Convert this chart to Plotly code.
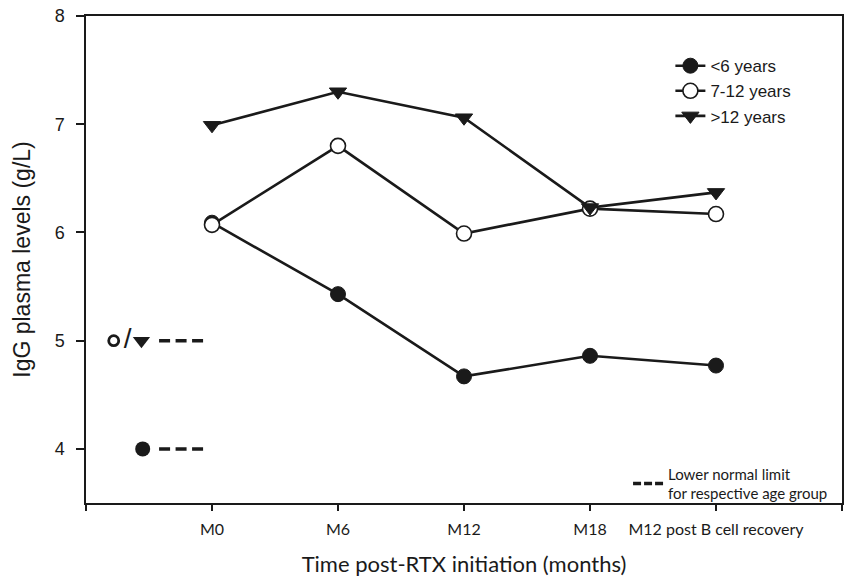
import plotly.graph_objects as go

# ---- data ----
time_labels = ["M0", "M6", "M12", "M18", "M12 post B cell recovery"]
time_pos = [0, 1, 2, 3, 4]
igg_lt6 = [6.09, 5.43, 4.67, 4.86, 4.77]
igg_7_12 = [6.07, 6.80, 5.99, 6.22, 6.17]
igg_gt12 = [6.99, 7.30, 7.06, 6.23, 6.37]
group_names = ["<6 years", "7-12 years", ">12 years"]
lower_limit_lt6 = 4
lower_limit_7_12 = 5
lower_limit_gt12 = 5
y_ticks = [4, 5, 6, 7, 8]

INK = "#1a1a1a"
fig = go.Figure()

# main series
series = [
    (igg_lt6, group_names[0], dict(symbol="circle", size=15, color=INK, line=dict(color=INK, width=1))),
    (igg_7_12, group_names[1], dict(symbol="circle", size=15, color="white", line=dict(color=INK, width=1.6))),
    (igg_gt12, group_names[2], dict(symbol="triangle-down", size=15, color=INK, line=dict(color=INK, width=1))),
]
for vals, name, mk in series:
    fig.add_trace(go.Scatter(x=time_pos, y=vals, name=name, mode="lines+markers",
                             line=dict(color=INK, width=2.6), marker=mk, legend="legend"))

# lower normal limit keys (left side)
fig.add_trace(go.Scatter(x=[-0.78], y=[lower_limit_7_12], mode="markers", showlegend=False,
                         marker=dict(symbol="circle-open", size=10, color=INK, line=dict(width=2.8))))
fig.add_trace(go.Scatter(x=[-0.56], y=[lower_limit_gt12], mode="markers", showlegend=False,
                         marker=dict(symbol="triangle-down", size=15, color=INK)))
fig.add_trace(go.Scatter(x=[-0.55], y=[lower_limit_lt6], mode="markers", showlegend=False,
                         marker=dict(symbol="circle", size=15, color=INK)))
fig.add_trace(go.Scatter(x=[-0.67], y=[lower_limit_7_12], mode="text", text=["/"], showlegend=False,
                         textfont=dict(family="Liberation Sans, Arial", size=28, color=INK)))
for lim in sorted(set([lower_limit_lt6, lower_limit_7_12, lower_limit_gt12])):
    fig.add_trace(go.Scatter(x=[-0.42, -0.07], y=[lim, lim], mode="lines", showlegend=False,
                             line=dict(color=INK, width=3.5, dash="11px,5.5px")))

# legend entry for the dashed line
fig.add_trace(go.Scatter(x=[None], y=[None], mode="lines", name="Lower normal limit<br>for respective age group",
                         line=dict(color=INK, width=3.5, dash="8px,3px"), legend="legend2"))

fig.update_layout(
    width=846, height=582,
    margin=dict(l=86, r=4, t=16, b=79),
    plot_bgcolor="white", paper_bgcolor="white",
    font=dict(family="Liberation Sans, Arial", color=INK),
    legend=dict(x=0.773, y=0.934, xanchor="left", yanchor="top",
                font=dict(family="Liberation Sans, Arial", size=17, color=INK),
                bgcolor="rgba(0,0,0,0)", tracegroupgap=0),
    legend2=dict(x=0.717, y=0.04, xanchor="left", yanchor="middle",
                 font=dict(family="Lato", size=15, color=INK),
                 bgcolor="rgba(0,0,0,0)"),
    xaxis=dict(range=[-1, 5], tickmode="array", automargin=False,
               tickvals=[-1] + time_pos + [5], ticktext=[""] + time_labels + [""],
               ticks="outside", ticklen=6, tickwidth=1.5, tickcolor=INK,
               showline=True, linecolor=INK, linewidth=1.5, mirror=True,
               showgrid=False, zeroline=False,
               tickfont=dict(family="Lato", size=16, color=INK), ticklabelstandoff=5,
               title=dict(text="Time post-RTX initiation (months)",
                          font=dict(family="Lato", size=22, color=INK), standoff=20)),
    yaxis=dict(range=[3.5, 8], tickvals=y_ticks, automargin=False,
               ticks="outside", ticklen=8, tickwidth=1.5, tickcolor=INK,
               showline=True, linecolor=INK, linewidth=1.5, mirror=True,
               showgrid=False, zeroline=False,
               tickfont=dict(family="Liberation Sans, Arial", size=18, color=INK), ticklabelstandoff=8,
               title=dict(text="IgG plasma levels (g/L)",
                          font=dict(family="Liberation Sans, Arial", size=23, color=INK), standoff=18)),
)

fig.write_html("out.html", config={"displayModeBar": False},
               post_script="document.body.style.margin='0';document.body.style.padding='0';")
